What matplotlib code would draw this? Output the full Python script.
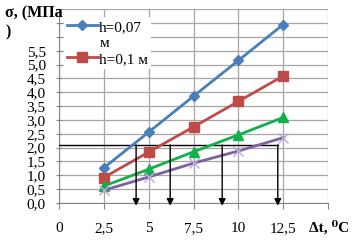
import matplotlib.pyplot as plt
from matplotlib.lines import Line2D
import numpy as np

# temperature difference, deg C
dt = [2.5, 5, 7.5, 10, 12.5]
# stress for each slab thickness, MPa
s_007 = [1.27, 2.56, 3.86, 5.15, 6.45]
s_01 = [0.92, 1.84, 2.75, 3.67, 4.59]
s_3 = [0.61, 1.22, 1.85, 2.46, 3.09]
s_4 = [0.46, 0.94, 1.44, 1.88, 2.36]
labels = ["h=0,07", "h=0,1 м"]

# limit stress level and where it crosses each line
level = 2.1
cross_x = [4.3, 6.2, 9.1, 12.2]

xticks = np.arange(0, 15.1, 2.5)
xticklabels = ["0", "2,5", "5", "7,5", "10", "12,5", ""]
yticks = np.arange(0, 7.01, 0.5)
yticklabels = ["%.1f" % v for v in yticks]
yticklabels = [t.replace(".", ",") if v <= 5.5 else "" for t, v in zip(yticklabels, yticks)]

plt.rcParams['font.family'] = ['Liberation Serif', 'DejaVu Serif']
fig = plt.figure(figsize=(3.59, 2.44), dpi=100)
ax = fig.add_axes([59 / 359, 1 - 203 / 244, 269 / 359, 193.7 / 244])

grid_c = '#a6a6a6'
ax.set_xlim(0, 15)
ax.set_ylim(0, 7)
ax.set_xticks(xticks)
ax.set_xticklabels(xticklabels)
ax.set_yticks(yticks)
ax.set_yticklabels(yticklabels)
ax.grid(True, color=grid_c, lw=0.9)
ax.set_axisbelow(True)
for side in ['top', 'right']:
    ax.spines[side].set_visible(False)
for side in ['left', 'bottom']:
    ax.spines[side].set_color('#868686')
ax.tick_params(axis='y', direction='inout', length=5, color='#868686',
               labelsize=11, pad=7)
ax.tick_params(axis='x', direction='out', length=4, color='#868686',
               labelsize=11, pad=10)

ax.plot(dt, s_007, color='#4a7ebb', lw=2, marker='D', ms=5, label=labels[0], zorder=4)
ax.plot(dt, s_01, color='#be4b48', lw=2, marker='s', ms=7, label=labels[1], zorder=4)
ax.plot(dt, s_3, color='#12b04a', lw=2, marker='^', ms=7, zorder=4)
ax.plot(dt, s_4, color='#7d60a0', lw=2, marker='x', ms=7, mec='#b9a8d8',
        mew=1, zorder=4)

ax.plot([0, cross_x[-1]], [level, level], color='black', lw=1, zorder=3)
for x in cross_x:
    ax.annotate('', xy=(x, -0.1), xytext=(x, level),
                arrowprops=dict(arrowstyle='-|>', color='black', lw=1,
                                mutation_scale=10, shrinkA=0, shrinkB=0),
                annotation_clip=False, zorder=5)

h = ax.get_legend_handles_labels()[0]
blank = Line2D([], [], color='none')
leg = ax.legend([h[0], blank, h[1]], [labels[0], "м", labels[1]],
                loc='upper left', bbox_to_anchor=(64 / 359, 1 - 17 / 244),
                bbox_transform=fig.transFigure, frameon=True, fontsize=11,
                handlelength=2.0, handletextpad=0.1, labelspacing=0.15,
                borderpad=0.2, borderaxespad=0)
leg.get_frame().set_edgecolor('none')
leg.get_frame().set_facecolor('white')
leg.get_frame().set_alpha(1)

fig.text(5 / 359, 1 - 5 / 244, "σ, (МПа\n)", fontsize=11.5, fontweight='bold',
         ha='left', va='top', linespacing=1.25)
fig.text(309 / 359, 1 - 227 / 244, "Δt, ⁰C", fontsize=11, fontweight='bold',
         ha='left', va='center')

fig.savefig('out.png', dpi=100)
